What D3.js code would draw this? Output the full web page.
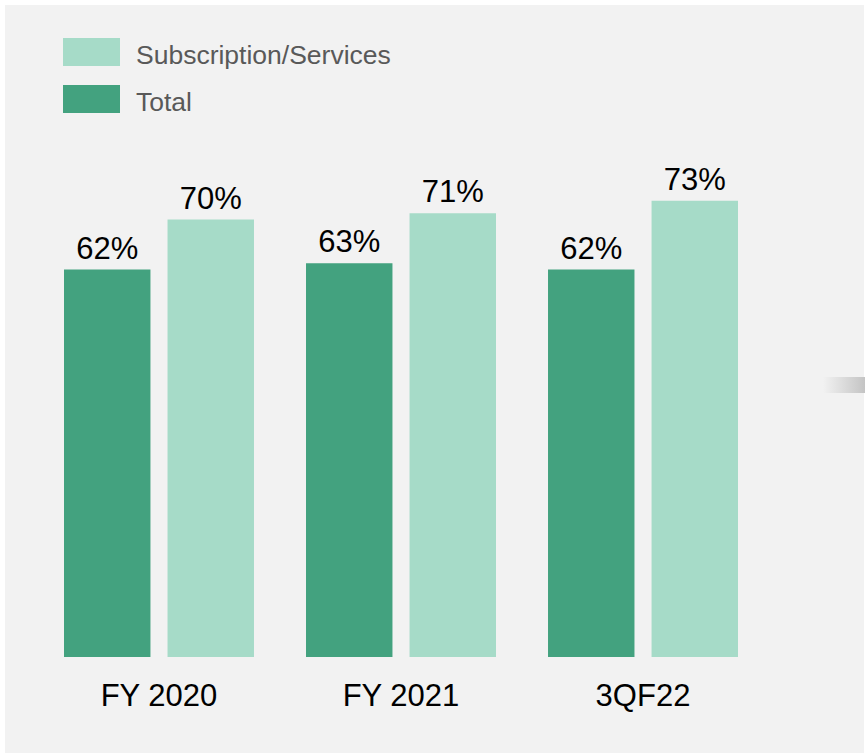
<!DOCTYPE html>
<html>
<head>
<meta charset="utf-8">
<script src="https://cdn.jsdelivr.net/npm/d3@7"></script>
<style>
  body { margin: 0; background: #ffffff; }
  svg { display: block; font-family: "Liberation Sans", Arial, sans-serif; }
</style>
</head>
<body>
<div id="chart"></div>
<script>
// chart data
const categories = ["FY 2020", "FY 2021", "3QF22"];
const seriesNames = ["Total", "Subscription/Services"];
const totalValues = [62, 63, 62];
const subsValues = [70, 71, 73];
const legendOrder = ["Subscription/Services", "Total"];

const width = 865, height = 753;
const colors = { "Total": "#43a27f", "Subscription/Services": "#a6dbc8" };

const svg = d3.select("#chart").append("svg")
    .attr("width", width)
    .attr("height", height);

// panel
svg.append("rect")
    .attr("x", 5).attr("y", 5)
    .attr("width", 859).attr("height", height - 5)
    .attr("fill", "#f2f2f2");

// little grey gradient tab at the right edge
const grad = svg.append("defs").append("linearGradient")
    .attr("id", "tab").attr("x1", "0%").attr("x2", "100%");
grad.append("stop").attr("offset", "0%").attr("stop-color", "#f2f2f2");
grad.append("stop").attr("offset", "100%").attr("stop-color", "#c4c4c4");
svg.append("rect")
    .attr("x", 823).attr("y", 377)
    .attr("width", 42).attr("height", 16)
    .attr("fill", "url(#tab)");

// scales
const x0 = d3.scaleBand()
    .domain(categories)
    .range([64, 738])
    .paddingInner(0.215)
    .paddingOuter(0);

const x1 = d3.scaleBand()
    .domain(seriesNames)
    .range([0, x0.bandwidth()])
    .paddingInner(0.165);

const y = d3.scaleLinear().domain([0, 100]).range([657, 32]);

const rows = categories.map((c, i) => ({
    cat: c,
    vals: [
        { name: "Total", v: totalValues[i] },
        { name: "Subscription/Services", v: subsValues[i] }
    ]
}));

const groups = svg.selectAll(".group")
    .data(rows)
    .enter().append("g")
    .attr("class", "group")
    .attr("transform", d => `translate(${x0(d.cat)},0)`);

groups.selectAll("rect")
    .data(d => d.vals)
    .enter().append("rect")
    .attr("x", d => x1(d.name))
    .attr("y", d => y(d.v))
    .attr("width", x1.bandwidth())
    .attr("height", d => y(0) - y(d.v))
    .attr("fill", d => colors[d.name]);

groups.selectAll(".val")
    .data(d => d.vals)
    .enter().append("text")
    .attr("class", "val")
    .attr("x", d => x1(d.name) + x1.bandwidth() / 2)
    .attr("y", d => y(d.v) - 11)
    .attr("text-anchor", "middle")
    .attr("font-size", 31)
    .attr("fill", "#000")
    .text(d => d.v + "%");

// category axis labels (no line)
const xAxis = d3.axisBottom(x0).tickSize(0).tickPadding(0);
const axisG = svg.append("g")
    .attr("transform", `translate(0,${y(0)})`)
    .call(xAxis);
axisG.select(".domain").remove();
axisG.selectAll("text")
    .attr("font-size", 31)
    .attr("font-family", "Liberation Sans, Arial, sans-serif")
    .attr("fill", "#000")
    .attr("dy", null)
    .attr("y", 49);

// legend
const legend = svg.selectAll(".legend")
    .data(legendOrder)
    .enter().append("g")
    .attr("class", "legend")
    .attr("transform", (d, i) => `translate(63,${38 + i * 47})`);

legend.append("rect")
    .attr("width", 57).attr("height", 28)
    .attr("fill", d => colors[d]);

legend.append("text")
    .attr("x", 73).attr("y", 26)
    .attr("font-size", 26.5)
    .attr("fill", "#595959")
    .text(d => d);
</script>
</body>
</html>
